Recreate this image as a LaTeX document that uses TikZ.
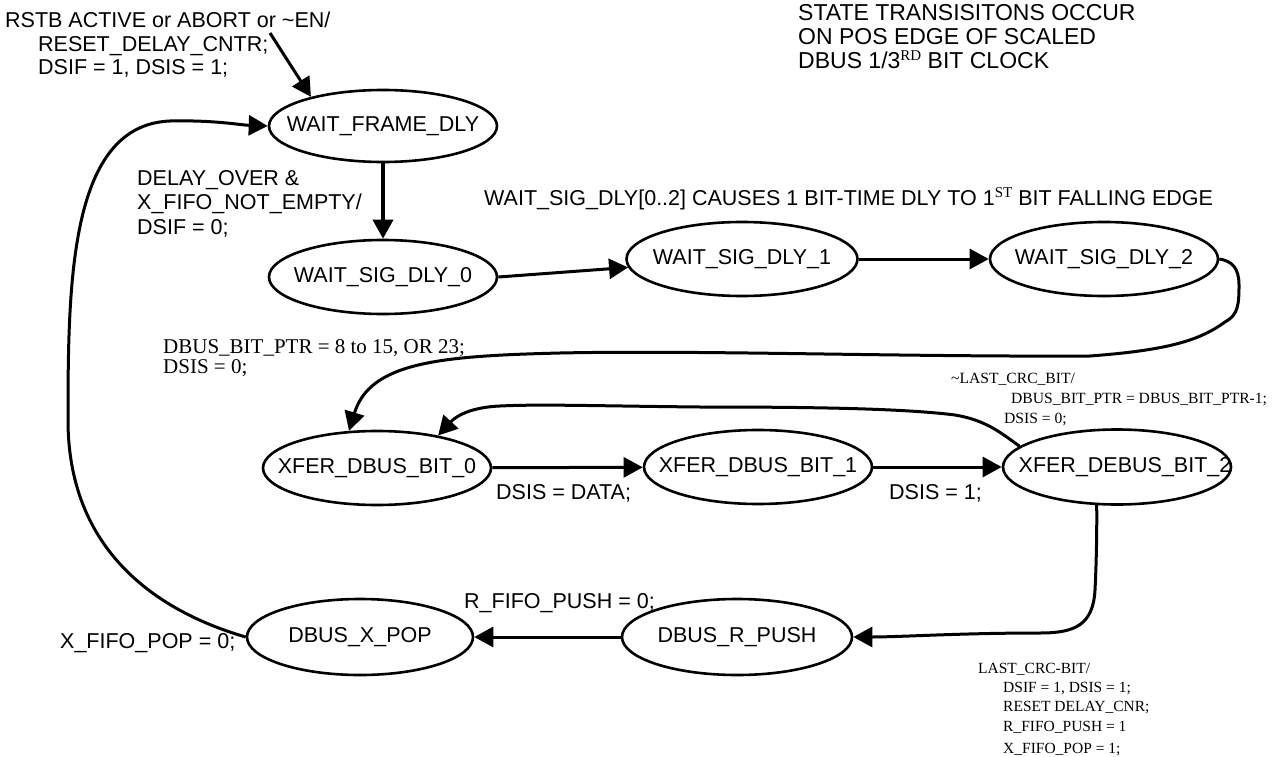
\documentclass[tikz,border=0pt]{standalone}
\usepackage{fontspec}
\setmainfont{Liberation Serif}
\setsansfont{Liberation Sans}
\usetikzlibrary{shapes.geometric,arrows.meta}
\tikzset{state/.style={ellipse, draw, line width=2.6pt, inner sep=0pt, minimum width=228pt, minimum height=74pt, font=\sffamily\fontsize{21.5}{24}\selectfont},
  trans/.style={line width=3pt, -{Triangle[length=19pt,width=20pt]}},
  note/.style={font=\sffamily\fontsize{21.5}{24}\selectfont, align=left, inner sep=0pt},
  serifnote/.style={font=\rmfamily\fontsize{21}{20}\selectfont, align=left, inner sep=0pt},
  smallnote/.style={font=\rmfamily\fontsize{15.6}{20}\selectfont, align=left, inner sep=0pt}}
\newcommand\supsc[1]{\raisebox{8pt}{\rmfamily\fontsize{15}{15}\selectfont #1}}

\begin{document}
\begin{tikzpicture}[x=1pt,y=-1pt]
  \useasboundingbox (0,0) rectangle (1279,757);
  \node[state, minimum height=72pt] (fdly) at (383,126) {\makebox[0pt]{WAIT\_FRAME\_DLY}};
  \node[state] (sig0) at (383,277) {\makebox[0pt]{WAIT\_SIG\_DLY\_0}};
  \node[state, minimum width=231pt] (sig1) at (742,259) {\makebox[0pt]{WAIT\_SIG\_DLY\_1}};
  \node[state] (sig2) at (1104,259) {\makebox[0pt]{WAIT\_SIG\_DLY\_2}};
  \node[state] (bit0) at (377,468) {\makebox[0pt]{XFER\_DBUS\_BIT\_0}};
  \node[state] (bit1) at (758,467) {\makebox[0pt]{XFER\_DBUS\_BIT\_1}};
  \node[state, minimum height=75pt] (bit2) at (1117,467) {\makebox[0pt]{\hspace*{16pt}XFER\_DEBUS\_BIT\_2}};
  \node[state, minimum width=230pt, minimum height=76pt] (rpush) at (737,637) {\makebox[0pt]{DBUS\_R\_PUSH}};
  \node[state, minimum width=226pt, minimum height=76pt] (xpop) at (360,637) {\makebox[0pt]{DBUS\_X\_POP}};

  \coordinate (rst) at (270,33);
  \node[note, anchor=north west, font=\sffamily\fontsize{21.5}{23.5}\selectfont] (rstlbl) at (5,12) {RSTB ACTIVE or ABORT or \textasciitilde EN/\\\hspace*{33pt}RESET\_DELAY\_CNTR;\\\hspace*{33pt}DSIF = 1, DSIS = 1;};
  \node[note, anchor=north west, font=\sffamily\fontsize{23}{24}\selectfont] (clklbl) at (798,4) {STATE TRANSISITONS OCCUR\\ON POS EDGE OF SCALED\\DBUS 1/3\supsc{RD} BIT CLOCK};
  \node[note, anchor=north west, font=\sffamily\fontsize{21.5}{24.5}\selectfont] (dlylbl) at (137,170) {DELAY\_OVER \&\\X\_FIFO\_NOT\_EMPTY/\\DSIF = 0;};
  \node[note, anchor=west] (siglbl) at (484,199) {WAIT\_SIG\_DLY[0..2] CAUSES 1 BIT-TIME DLY TO 1\supsc{ST} BIT FALLING EDGE};
  \node[serifnote, anchor=north west] (ptrlbl) at (163,339) {DBUS\_BIT\_PTR = 8 to 15, OR 23;\\DSIS = 0;};
  \node[smallnote, anchor=north west] (crclbl) at (951,373) {\textasciitilde LAST\_CRC\_BIT/\\\hspace*{60pt}DBUS\_BIT\_PTR = DBUS\_BIT\_PTR-1;\\\hspace*{53pt}DSIS = 0;};
  \node[note, anchor=west] (datalbl) at (496,493) {DSIS = DATA;};
  \node[note, anchor=west] (onelbl) at (889,493) {DSIS = 1;};
  \node[note, anchor=west] (rfifolbl) at (464,603) {R\_FIFO\_PUSH = 0;};
  \node[note, anchor=west] (xfifolbl) at (60,643) {X\_FIFO\_POP = 0;};
  \node[smallnote, anchor=north west, font=\rmfamily\fontsize{15.5}{19.2}\selectfont] (lastlbl) at (978,663) {LAST\_CRC-BIT/\\\hspace*{25pt}DSIF = 1, DSIS = 1;\\\hspace*{25pt}RESET DELAY\_CNR;\\\hspace*{25pt}R\_FIFO\_PUSH = 1\\[3pt]\hspace*{25pt}X\_FIFO\_POP = 1;};

  \draw[trans] (rst) -- (fdly.158);
  \draw[trans, line width=3.6pt] (fdly) -- (sig0);
  \draw[trans] (sig0.east) -- (sig1);
  \draw[trans] (sig1) -- (sig2);
  \draw[trans] (sig2.east) .. controls (1232,261) and (1239,268) .. (1239,285)
     .. controls (1239,305) and (1238,315) .. (1225,322)
     .. controls (1200,340) and (1170,350) .. (1090,356)
     .. controls (900,357) and (700,350) .. (560,353)
     .. controls (440,356) and (370,362) .. (bit0.127);
  \draw[trans] (bit2.168) .. controls (1000,432) and (985,420) .. (955,415)
     .. controls (900,408) and (800,407) .. (700,407)
     .. controls (600,406) and (540,404) .. (500,406)
     .. controls (475,407) and (458,414) .. (bit0.28);
  \draw[trans] (bit0) -- (bit1);
  \draw[trans] (bit1) -- (bit2);
  \draw[trans] (bit2.242) .. controls (1097,540) and (1096,570) .. (1095,590)
     .. controls (1093,625) and (1075,633) .. (1040,633)
     .. controls (960,633) and (900,637) .. (rpush.east);
  \draw[trans] (rpush) -- (xpop);
  \draw[trans] (xpop.west) .. controls (170,615) and (68,560) .. (68,420)
     .. controls (68,280) and (70,125) .. (170,121)
     .. controls (215,120) and (240,125) .. (fdly.west);
\end{tikzpicture}
\end{document}
